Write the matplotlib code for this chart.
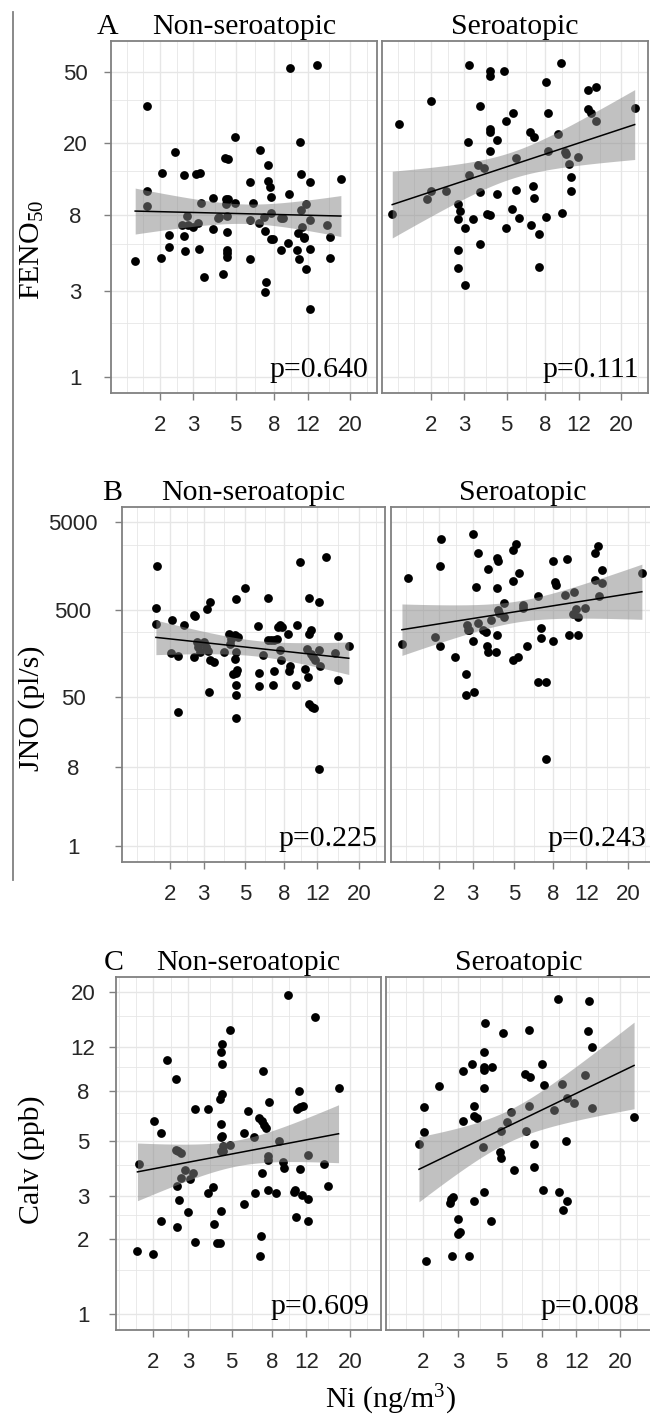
import numpy as np
import matplotlib
matplotlib.use('Agg')
import matplotlib.pyplot as plt
from matplotlib.lines import Line2D
from matplotlib.ticker import FixedLocator

plt.rcParams['mathtext.fontset'] = 'custom'
plt.rcParams['mathtext.rm'] = 'Liberation Serif'
plt.rcParams['mathtext.it'] = 'Liberation Serif:italic'

SERIF = 'Liberation Serif'
SANS = 'Liberation Sans'

# ---------------- data (Ni in ng/m3 on x, outcome on y) ----------------
feno_non_x = [1.48, 1.70, 1.70, 1.70, 2.02, 2.06, 2.24, 2.24, 2.40, 2.69, 2.62, 2.68, 2.72, 2.79, 2.82, 2.97,
              3.16, 3.08, 3.25, 3.22, 3.29, 3.42, 3.82, 3.82, 4.06, 4.11, 4.27, 4.41, 4.54, 4.43, 4.58, 4.45,
              4.49, 4.49, 4.49, 4.51, 4.51, 4.96, 4.96, 5.96, 5.96, 5.96, 6.20, 6.66, 6.72, 7.09, 7.11, 7.20,
              7.11, 7.43, 7.43, 7.59, 7.64, 7.71, 7.64, 7.84, 8.63, 8.91, 8.63, 9.40, 9.51, 9.70, 10.5, 10.7,
              10.8, 10.9, 11.0, 11.0, 11.2, 11.4, 11.7, 11.5, 11.7, 12.3, 12.3, 12.3, 12.3, 13.4, 15.1, 15.6,
              15.7, 17.9]
feno_non_y = [4.42, 32.2, 10.8, 8.99, 4.62, 13.7, 6.17, 5.31, 17.9, 13.3, 7.01, 6.12, 5.02, 7.91, 7.01, 6.87,
              7.17, 13.5, 13.7, 5.16, 9.26, 3.61, 9.87, 6.64, 7.64, 7.80, 3.73, 16.5, 16.3, 9.75, 9.75, 9.18,
              7.87, 6.38, 5.09, 4.88, 4.67, 21.6, 9.34, 12.2, 7.48, 4.56, 9.26, 7.17, 18.3, 7.80, 6.50, 3.39,
              2.96, 15.1, 12.4, 11.4, 8.22, 10.1, 5.89, 5.84, 7.64, 7.64, 5.09, 5.55, 10.5, 52.2, 5.09, 6.31,
              4.56, 20.2, 13.5, 8.50, 6.81, 5.91, 9.14, 5.99, 3.99, 12.1, 7.48, 5.16, 2.39, 54.5, 7.01, 6.04,
              4.60, 12.6]

feno_sero_x = [1.25, 1.36, 1.91, 2.00, 2.00, 2.40, 2.76, 2.83, 2.76, 3.02, 2.76, 2.76, 3.02, 3.12, 3.17, 3.17,
               3.34, 3.55, 3.60, 3.60, 3.60, 3.81, 3.95, 4.08, 4.08, 4.08, 4.08, 4.10, 4.10, 4.43, 4.43, 4.86,
               4.94, 4.94, 5.32, 5.39, 5.61, 5.61, 5.80, 6.60, 6.93, 6.91, 6.99, 6.74, 7.43, 7.43, 8.06, 8.29,
               8.29, 8.06, 9.30, 9.68, 9.80, 10.2, 10.3, 10.7, 10.9, 10.9, 11.9, 13.4, 14.7, 13.4, 13.9, 14.7,
               23.6]
feno_sero_y = [8.04, 25.6, 9.79, 34.4, 10.9, 10.9, 9.18, 8.39, 7.54, 6.72, 5.09, 4.04, 3.24, 20.2, 13.3, 54.7,
               7.54, 15.2, 32.2, 10.7, 5.47, 14.6, 8.04, 7.94, 23.9, 23.1, 18.0, 50.7, 47.3, 20.8, 10.4, 50.7,
               26.7, 6.72, 8.58, 29.6, 16.6, 11.0, 7.64, 23.2, 21.6, 11.5, 9.96, 7.01, 6.25, 4.09, 43.8, 29.6,
               18.2, 7.74, 22.4, 56.2, 8.22, 17.9, 17.4, 15.3, 12.9, 10.8, 16.8, 39.6, 41.3, 30.9, 29.6, 26.7,
               31.4]

jno_non_x = [1.70, 1.68, 1.68, 2.04, 2.02, 2.21, 2.20, 2.37, 2.68, 2.71, 2.66, 2.77, 2.82, 2.88, 3.00, 3.10,
             3.15, 3.12, 3.25, 3.20, 3.23, 3.39, 3.83, 4.07, 4.18, 4.15, 4.41, 4.59, 4.43, 4.46, 4.41, 4.50,
             4.32, 4.46, 4.43, 4.46, 4.48, 4.96, 5.86, 5.90, 5.90, 6.17, 6.61, 6.61, 6.80, 7.08, 7.31, 7.08,
             7.00, 7.47, 7.62, 7.78, 7.62, 7.69, 8.36, 8.60, 8.53, 9.26, 9.37, 9.76, 10.3, 10.7, 10.8, 10.9,
             11.1, 10.6, 11.1, 11.4, 11.6, 10.9, 11.2, 11.5, 12.2, 12.3, 12.4, 12.3, 13.3, 14.9, 15.5, 15.5,
             17.6]
jno_non_y = [1574, 523, 345, 377, 159, 147, 33.6, 330, 438, 419, 145, 211, 186, 163, 212, 186,
             166, 513, 612, 56.6, 133, 125, 163, 260, 232, 203, 253, 243, 163, 652, 137, 103,
             91.8, 93.5, 69.3, 52.3, 28.7, 879, 324, 94.4, 67.5, 152, 675, 222, 222, 222, 228, 100,
             69.3, 316, 337, 316, 171, 133, 260, 113, 98.6, 69.3, 337, 1750, 105, 84.1, 680, 265,
             289, 178, 156, 143, 133, 41.6, 38.7, 37.4, 612, 171, 113, 7.64, 2014, 160, 247, 78.3,
             194]

jno_sero_x = [1.27, 1.36, 1.90, 2.01, 2.02, 2.04, 2.41, 2.77, 2.77, 2.80, 2.83, 2.88, 3.03, 3.03, 3.04, 3.13,
              3.22, 3.22, 3.39, 3.53, 3.61, 3.58, 3.61, 3.76, 4.04, 4.08, 4.04, 4.04, 3.99, 4.08, 4.16, 4.42,
              4.42, 4.90, 5.10, 4.90, 5.30, 4.94, 5.20, 5.53, 5.57, 5.83, 6.64, 6.64, 7.35, 6.95, 6.95, 7.35,
              7.98, 7.98, 8.21, 8.31, 9.27, 9.53, 9.69, 10.2, 10.3, 10.6, 10.9, 10.9, 11.8, 13.3, 13.9, 13.3,
              14.0, 14.6, 14.5, 23.6]
jno_sero_y = [200, 1156, 241, 194, 1560, 3214, 142, 91.8, 52.7, 330, 294, 289, 3640, 218, 57.6, 912,
              2239, 351, 294, 277, 1455, 190, 163, 384, 1928, 1798, 879, 253, 163, 491, 458, 597,
              412, 2404, 2793, 1059, 1319, 131, 143, 561, 523, 190, 711, 73.8, 73.8, 308, 234, 9.95,
              1811, 218, 1040, 953, 731, 1897, 253, 450, 783, 505, 412, 253, 523, 2203, 2626, 1086,
              711, 1415, 1014, 1309]

calv_non_x = [1.66, 2.00, 1.69, 2.02, 2.20, 2.20, 2.35, 2.60, 2.61, 2.68, 2.75, 2.63, 2.65, 2.71, 2.76, 2.91,
              3.00, 3.07, 3.17, 3.26, 3.25, 3.78, 3.78, 4.04, 4.07, 4.20, 4.36, 4.40, 4.40, 4.50, 4.54, 4.40,
              4.45, 4.40, 4.36, 4.47, 4.47, 4.40, 4.47, 4.91, 4.91, 5.78, 5.78, 6.08, 6.53, 6.58, 6.92, 7.11,
              7.31, 7.48, 7.11, 7.05, 7.00, 7.25, 7.63, 7.63, 7.63, 7.74, 8.37, 8.71, 9.09, 9.27, 9.64, 10.4,
              10.5, 10.6, 10.8, 11.1, 11.5, 11.0, 11.1, 11.4, 12.2, 12.3, 12.3, 13.3, 14.8, 15.4, 17.5]
calv_non_y = [1.80, 1.74, 4.04, 6.04, 5.37, 2.38, 10.6, 8.87, 4.60, 4.56, 4.46, 3.29, 2.24, 2.90, 3.53, 3.82,
              2.58, 3.51, 3.70, 6.72, 1.95, 6.72, 3.07, 3.26, 2.30, 1.94, 1.94, 2.60, 4.54, 4.56, 4.76, 5.19,
              5.22, 5.84, 7.41, 7.71, 10.2, 11.4, 12.3, 14.1, 4.81, 2.77, 5.40, 6.64, 5.20, 3.09, 6.19, 6.01,
              5.82, 5.64, 3.70, 2.07, 1.72, 9.59, 4.35, 4.20, 3.18, 7.16, 3.09, 5.02, 4.13, 3.90, 19.4, 3.12,
              3.18, 2.47, 6.76, 6.87, 6.94, 8.00, 3.85, 3.02, 2.91, 2.38, 4.40, 15.9, 4.03, 3.29, 8.20]

calv_sero_x = [1.90, 2.02, 2.02, 2.06, 2.41, 2.73, 2.76, 2.82, 2.79, 3.01, 3.01, 3.07, 3.19, 3.19, 3.40, 3.55,
               3.63, 3.63, 3.76, 3.63, 4.01, 4.05, 4.05, 4.05, 4.05, 4.05, 4.10, 4.40, 4.47, 4.91, 4.95, 4.96,
               5.06, 5.30, 5.58, 5.78, 6.58, 6.97, 6.68, 6.92, 6.92, 7.33, 7.33, 7.99, 8.09, 8.18, 9.23, 9.64,
               9.75, 10.1, 10.3, 10.6, 10.8, 10.8, 11.7, 13.3, 13.8, 14.0, 14.5, 14.5, 23.6]
calv_sero_y = [4.88, 6.85, 5.42, 1.64, 8.32, 2.82, 2.91, 2.97, 1.72, 2.41, 2.11, 2.14, 9.62, 6.03, 1.72, 10.2,
               6.95, 6.33, 6.19, 2.86, 4.71, 11.5, 9.96, 9.66, 8.20, 3.12, 15.0, 2.37, 10.0, 4.51, 4.26, 5.47,
               13.7, 5.97, 6.56, 3.82, 9.30, 9.07, 5.47, 14.1, 6.95, 4.88, 3.94, 10.2, 3.18, 8.39, 6.66, 18.8,
               3.12, 8.47, 2.62, 5.02, 7.48, 2.86, 7.09, 9.22, 13.9, 18.4, 12.0, 6.81, 6.24]

x_ticks = [2, 3, 5, 8, 12, 20]
feno_ticks = [1, 3, 8, 20, 50]
jno_ticks = [1, 8, 50, 500, 5000]
calv_ticks = [1, 2, 3, 5, 8, 12, 20]
facet_labels = ['Non-seroatopic', 'Seroatopic']
row_letters = ['A', 'B', 'C']
p_labels = [['p=0.640', 'p=0.111'], ['p=0.225', 'p=0.243'], ['p=0.609', 'p=0.008']]
y_titles = [r'FENO$_{\mathrm{50}}$', 'JNO (pl/s)', 'Calv (ppb)']
x_title = r'Ni (ng/m$^{\mathrm{3}}$)'

rows = [
    dict(data=[(feno_non_x, feno_non_y), (feno_sero_x, feno_sero_y)], yt=feno_ticks),
    dict(data=[(jno_non_x, jno_non_y), (jno_sero_x, jno_sero_y)], yt=jno_ticks),
    dict(data=[(calv_non_x, calv_non_y), (calv_sero_x, calv_sero_y)], yt=calv_ticks),
]

# ---------------- layout (pixels) ----------------
W, H = 650, 1421
fig = plt.figure(figsize=(W / 100, H / 100), dpi=100)

boxes = [
    ((111, 41, 377, 393), (382, 41, 648, 393)),
    ((122, 507, 385, 862), (391, 507, 654, 862)),
    ((116, 977, 381, 1330), (386, 977, 651, 1330)),
]
xlims = [(10 ** 0.043, 10 ** 1.443), (10 ** 0.046, 10 ** 1.437), (10 ** 0.111, 10 ** 1.459)]
ylims = [(10 ** -0.089, 10 ** 1.870), (10 ** -0.184, 10 ** 3.870), (10 ** -0.065, 10 ** 1.362)]
ylab_center = [77, 75, 85]
letter_x = [108, 112, 114]
ytitle_y = [250, 708, 1160]
p_x = 25.0

BORDER = '#808080'
GRID = '#E6E6E6'
TICKC = '#262626'
FS_SERIF = 21.5
FS_TICK = 16


def px2fig(x, y):
    return x / W, 1 - y / H


def t975(df):
    z = 1.959964
    return z + (z ** 3 + z) / (4 * df) + (5 * z ** 5 + 16 * z ** 3 + 3 * z) / (96 * df ** 2)


def x_minor(ticks):
    lb = list(np.log10(ticks))
    bd = lb[1] - lb[0]
    b = [lb[0] - bd] + lb + [lb[-1] + bd]
    mids = [(b[i] + b[i + 1]) / 2 for i in range(len(b) - 1)]
    return 10 ** np.array(mids + [b[0], b[-1]])


def y_minor(ticks):
    return [(ticks[i] + ticks[i + 1]) / 2 for i in range(len(ticks) - 1)]


for r, row in enumerate(rows):
    for c in range(2):
        l, t, rr, b = boxes[r][c]
        ax = fig.add_axes([l / W, 1 - b / H, (rr - l) / W, (b - t) / H])
        ax.set_xscale('log')
        ax.set_yscale('log')
        ax.set_xlim(*xlims[r])
        ax.set_ylim(*ylims[r])
        ax.set_facecolor('white')

        # grid
        for v in x_minor(x_ticks):
            ax.axvline(v, color=GRID, lw=0.6, zorder=0)
        for v in y_minor(row['yt']):
            ax.axhline(v, color=GRID, lw=0.6, zorder=0)
        for v in x_ticks:
            ax.axvline(v, color=GRID, lw=1.0, zorder=0)
        for v in row['yt']:
            ax.axhline(v, color=GRID, lw=1.0, zorder=0)

        ax.xaxis.set_major_locator(FixedLocator(x_ticks))
        ax.xaxis.set_minor_locator(FixedLocator([]))
        ax.yaxis.set_major_locator(FixedLocator(row['yt']))
        ax.yaxis.set_minor_locator(FixedLocator([]))
        ax.set_xticklabels([str(v) for v in x_ticks], fontfamily=SANS, fontsize=FS_TICK, color=TICKC)
        ax.tick_params(axis='x', which='major', length=5, width=1, color=BORDER, pad=11)
        if c == 0:
            ax.set_yticklabels([str(v) for v in row['yt']], fontfamily=SANS, fontsize=FS_TICK, color=TICKC)
            pad_px = l - ylab_center[r] - 5
            ax.tick_params(axis='y', which='major', length=5, width=1, color=BORDER, pad=pad_px * 0.72)
            for lab in ax.get_yticklabels():
                lab.set_horizontalalignment('center')
        else:
            ax.tick_params(axis='y', which='major', length=0, labelleft=False)

        for s in ax.spines.values():
            s.set_color(BORDER)
            s.set_linewidth(1.3)

        xs = np.array(row['data'][c][0], dtype=float)
        ys = np.array(row['data'][c][1], dtype=float)
        ax.scatter(xs, ys, s=40, color='black', linewidths=0, zorder=3)

        # linear fit in log-log space with 95% CI (as geom_smooth(method='lm'))
        lx, ly = np.log10(xs), np.log10(ys)
        n = len(lx)
        slope, icpt = np.polyfit(lx, ly, 1)
        res = ly - (icpt + slope * lx)
        s_err = np.sqrt(np.sum(res ** 2) / (n - 2))
        sxx = np.sum((lx - lx.mean()) ** 2)
        gx = np.linspace(lx.min(), lx.max(), 120)
        gy = icpt + slope * gx
        se = s_err * np.sqrt(1.0 / n + (gx - lx.mean()) ** 2 / sxx)
        tq = t975(n - 2)
        ax.fill_between(10 ** gx, 10 ** (gy - tq * se), 10 ** (gy + tq * se),
                        color='#858585', alpha=0.5, linewidth=0, zorder=4)
        ax.plot(10 ** gx, 10 ** gy, color='black', lw=1.1, zorder=5)

        ax.text(p_x, 1.0, p_labels[r][c], ha='right', va='baseline',
                fontfamily=SERIF, fontsize=FS_SERIF, color='black', zorder=6)

        # facet strip text
        cx = (l + rr) / 2
        fx, fy = px2fig(cx, t - 7)
        fig.text(fx, fy, facet_labels[c], ha='center', va='baseline',
                 fontfamily=SERIF, fontsize=FS_SERIF, color='black')

    # row letter
    lx_, ly_ = px2fig(letter_x[r], boxes[r][0][1] - 7)
    fig.text(lx_, ly_, row_letters[r], ha='center', va='baseline',
             fontfamily=SERIF, fontsize=FS_SERIF, color='black')
    # y title
    tx, ty = px2fig(32, ytitle_y[r])
    fig.text(tx, ty, y_titles[r], rotation=90, ha='center', va='center',
             fontfamily=SERIF, fontsize=FS_SERIF, color='black')

# x title
tx, ty = px2fig(390, 1400)
fig.text(tx, ty, x_title, ha='center', va='center', fontfamily=SERIF, fontsize=FS_SERIF, color='black')

# left vertical rule
x0, y0 = px2fig(13, 12)
x1, y1 = px2fig(13, 880)
fig.add_artist(Line2D([x0, x1], [y0, y1], color=BORDER, lw=1.3))

fig.savefig('out.png', dpi=100)
